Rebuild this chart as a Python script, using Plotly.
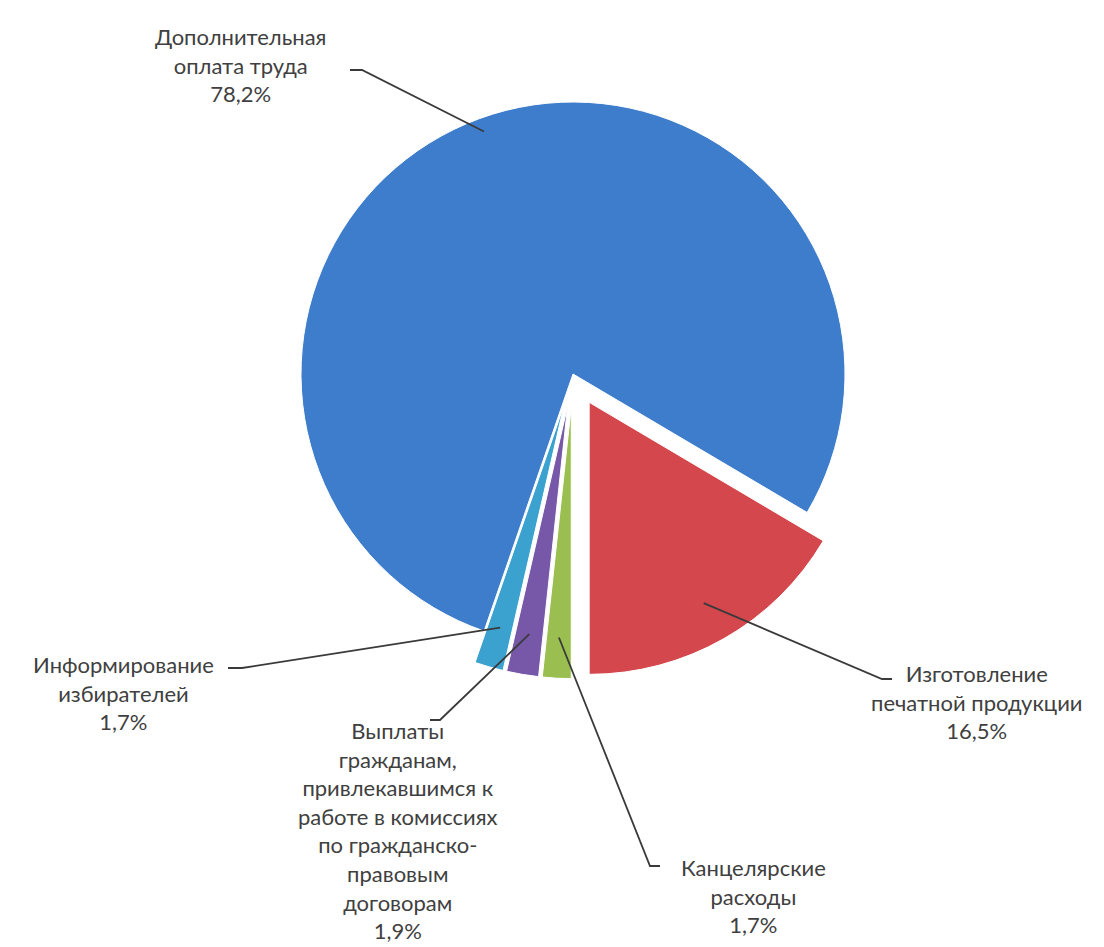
import math
import plotly.graph_objects as go

# ---- data ----
labels = [
    "Изготовление печатной продукции",
    "Канцелярские расходы",
    "Выплаты гражданам, привлекавшимся к работе в комиссиях по гражданско-правовым договорам",
    "Информирование избирателей",
    "Дополнительная оплата труда",
]
values = [16.5, 1.7, 1.9, 1.7, 78.2]
label_texts = [
    "Изготовление<br>печатной продукции<br>16,5%",
    "Канцелярские<br>расходы<br>1,7%",
    "Выплаты<br>гражданам,<br>привлекавшимся к<br>работе в комиссиях<br>по гражданско-<br>правовым<br>договорам<br>1,9%",
    "Информирование<br>избирателей<br>1,7%",
    "Дополнительная<br>оплата труда<br>78,2%",
]
colors = ["#D3474D", "#9BBE50", "#7758A8", "#3BA1CF", "#3D7DCB"]
pulls = [0.12, 0.12, 0.12, 0.12, 0.0]
rotation = 120.6

# ---- layout geometry (pixels) ----
W, H = 1104, 947
cx, cy, r_target = 565, 366, 272
maxpull = max(pulls)
half = r_target * (1 + maxpull)
dom_x = [(cx - half) / W, (cx + half) / W]
dom_y = [1 - (cy + half) / H, 1 - (cy - half) / H]

# label centres and leader-line anchors (pixels)
label_pos = [(968, 694), (745, 888), (390, 822), (115, 685), (232, 57)]
anchor = [[(884, 671), (874, 671)],
          [(652, 858), (642, 858)],
          [(422, 712), (432, 712)],
          [(220, 660), (234, 660)],
          [(342, 62), (354, 62)]]
tip_frac = [0.85, 0.85, 0.85, 0.85, 0.95]

def px(x, y):
    return x / W, 1 - y / H

fig = go.Figure(go.Pie(
    labels=labels, values=values, sort=False, direction="clockwise",
    rotation=rotation, pull=pulls, textinfo="none", hoverinfo="label+percent",
    marker=dict(colors=colors, line=dict(color="white", width=1)),
    domain=dict(x=dom_x, y=dom_y), showlegend=False,
))

# compute slice mid-angles from the values
total = sum(values)
ang = rotation
shapes, annotations = [], []
for i, v in enumerate(values):
    mid = ang + v / total * 360 / 2
    ang += v / total * 360
    rr = (pulls[i] + tip_frac[i]) * r_target
    tx = cx + rr * math.sin(math.radians(mid))
    ty = cy - rr * math.cos(math.radians(mid))
    pts = anchor[i] + [(tx, ty)]
    path = "M " + " L ".join(f"{px(x, y)[0]:.5f},{px(x, y)[1]:.5f}" for x, y in pts)
    shapes.append(dict(type="path", xref="paper", yref="paper", path=path,
                       line=dict(color="#3a3a3a", width=1.8)))
    lx, ly = px(*label_pos[i])
    annotations.append(dict(x=lx, y=ly, xref="paper", yref="paper", text=label_texts[i],
                            showarrow=False, xanchor="center", yanchor="middle", align="center",
                            font=dict(family="Lato, Open Sans, sans-serif", size=22, color="#404040")))

fig.update_layout(width=W, height=H, margin=dict(l=0, r=0, t=0, b=0),
                  paper_bgcolor="white", plot_bgcolor="white",
                  shapes=shapes, annotations=annotations)
fig.write_html("out.html")
